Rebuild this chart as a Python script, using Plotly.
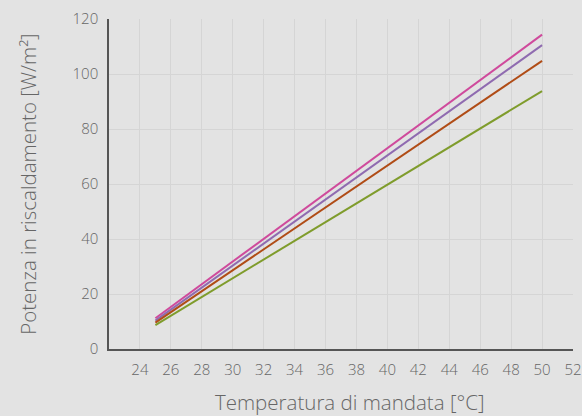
import plotly.graph_objects as go

# Flow temperature [°C] and heating output [W/m²] for four configurations
temperature = [25, 50]
series_pink = [11.2, 114.3]
series_purple = [10.3, 110.5]
series_brown = [9.6, 104.8]
series_green = [8.7, 93.8]

x_ticks = list(range(24, 53, 2))
y_ticks = [0, 20, 40, 60, 80, 100, 120]

x_title = "Temperatura di mandata [°C]"
y_title = "Potenza in riscaldamento [W/m²]"

colors = {
    "pink": "#cf4a9c",
    "purple": "#8f6bb0",
    "brown": "#b04c16",
    "green": "#7f9c2c",
}

fig = go.Figure()
for name, values in [("pink", series_pink), ("purple", series_purple),
                     ("brown", series_brown), ("green", series_green)]:
    fig.add_trace(go.Scatter(
        x=temperature, y=values, mode="lines",
        line=dict(color=colors[name], width=2),
        showlegend=False, hoverinfo="skip",
    ))

grey_text = "#666666"
axis_common = dict(
    showgrid=True, gridcolor="#d5d5d5", gridwidth=1,
    showline=True, linecolor="#555555", linewidth=1.5,
    ticks="outside", ticklen=6, tickcolor="rgba(0,0,0,0)",
    zeroline=False, automargin=False,
    tickfont=dict(size=15, color=grey_text, weight=300),
)

fig.update_layout(
    width=582, height=416,
    margin=dict(l=109, r=9, t=19, b=67),
    paper_bgcolor="#e3e3e3",
    plot_bgcolor="#e3e3e3",
    font=dict(family="Open Sans, sans-serif", color=grey_text, size=15),
    xaxis=dict(range=[22, 52], tickvals=x_ticks,
               ticktext=[str(v) for v in x_ticks], **axis_common),
    yaxis=dict(range=[0, 120], tickvals=y_ticks, **axis_common),
    annotations=[
        dict(text=x_title, xref="paper", yref="paper", x=0.519, y=-0.161,
             xanchor="center", yanchor="middle", showarrow=False,
             font=dict(size=20.5, color=grey_text, weight=300)),
        dict(text=y_title, xref="paper", yref="paper", x=-0.175, y=0.5,
             xanchor="center", yanchor="middle", textangle=-90, showarrow=False,
             font=dict(size=20.5, color=grey_text, weight=300)),
    ],
)

fig.write_html("out.html")
